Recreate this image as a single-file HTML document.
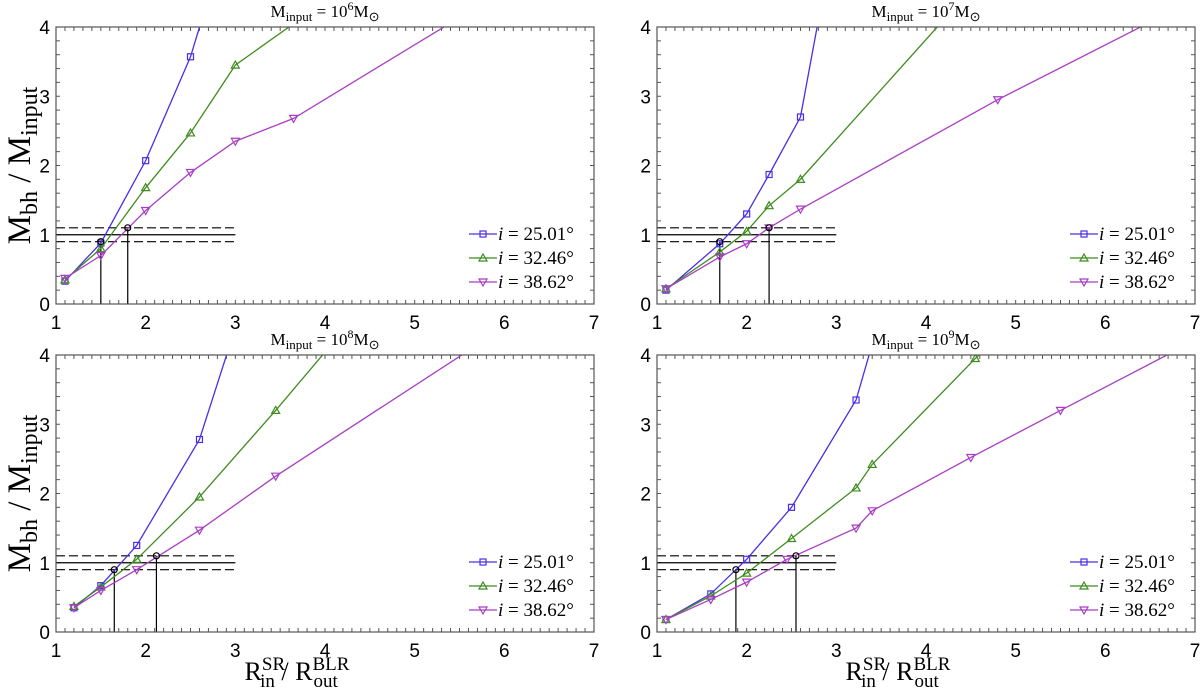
<!DOCTYPE html>
<html><head><meta charset="utf-8"><style>
html,body{margin:0;padding:0;background:#fff;}
svg{display:block;}
text{font-family:"Liberation Sans",sans-serif;}
.serif{font-family:"Liberation Serif",serif;}
</style></head><body>
<svg id="chart" width="1200" height="691" viewBox="0 0 1200 691" xmlns="http://www.w3.org/2000/svg"></svg>
<script>
const panelTitles = ["6","7","8","9"];
const seriesNames = ["i = 25.01°","i = 32.46°","i = 38.62°"];
const xTicks = [1,2,3,4,5,6,7];
const yTicks = [0,1,2,3,4];
// panel 1 (10^6)
const p1BlueX = [1.1,1.5,2,2.5,3];   const p1BlueY = [0.33,0.88,2.07,3.57,5.7];
const p1GreenX = [1.1,1.5,2,2.5,3,4]; const p1GreenY = [0.35,0.8,1.68,2.47,3.45,4.37];
const p1PurpX = [1.1,1.5,2,2.5,3,3.65,6]; const p1PurpY = [0.37,0.7,1.35,1.9,2.35,2.68,4.53];
const p1RefX = [1.5,1.8]; const p1RefY = [0.9,1.1];
// panel 2 (10^7)
const p2BlueX = [1.1,1.7,2,2.25,2.6,3]; const p2BlueY = [0.2,0.87,1.3,1.87,2.7,5.5];
const p2GreenX = [1.1,1.7,2,2.25,2.6,5]; const p2GreenY = [0.22,0.75,1.05,1.42,1.8,5.26];
const p2PurpX = [1.1,1.7,2,2.25,2.6,4.8,7]; const p2PurpY = [0.22,0.68,0.87,1.1,1.37,2.95,4.4];
const p2RefX = [1.7,2.25]; const p2RefY = [0.9,1.1];
// panel 3 (10^8)
const p3BlueX = [1.2,1.5,1.9,2.6,3.2]; const p3BlueY = [0.35,0.67,1.25,2.78,5.2];
const p3GreenX = [1.2,1.5,1.9,2.6,3.45,4.3]; const p3GreenY = [0.37,0.65,1.05,1.95,3.2,4.5];
const p3PurpX = [1.2,1.5,1.9,2.6,3.45,6]; const p3PurpY = [0.35,0.6,0.9,1.47,2.25,4.4];
const p3RefX = [1.65,2.12]; const p3RefY = [0.9,1.1];
// panel 4 (10^9)
const p4BlueX = [1.1,1.6,2,2.5,3.22,3.5]; const p4BlueY = [0.18,0.55,1.05,1.8,3.35,4.6];
const p4GreenX = [1.1,1.6,2,2.5,3.22,3.4,4.55,5]; const p4GreenY = [0.18,0.52,0.85,1.35,2.08,2.42,3.95,4.5];
const p4PurpX = [1.1,1.6,2,2.45,3.22,3.4,4.5,5.5,7]; const p4PurpY = [0.18,0.47,0.72,1.05,1.5,1.75,2.52,3.2,4.21];
const p4RefX = [1.88,2.55]; const p4RefY = [0.9,1.1];

const panels = [
 {x0:56,x1:594,y0:27,y1:304,s:[[p1BlueX,p1BlueY],[p1GreenX,p1GreenY],[p1PurpX,p1PurpY]],rx:p1RefX,ry:p1RefY,xl:false},
 {x0:657,x1:1195,y0:27,y1:304,s:[[p2BlueX,p2BlueY],[p2GreenX,p2GreenY],[p2PurpX,p2PurpY]],rx:p2RefX,ry:p2RefY,xl:false},
 {x0:56,x1:594,y0:355,y1:632,s:[[p3BlueX,p3BlueY],[p3GreenX,p3GreenY],[p3PurpX,p3PurpY]],rx:p3RefX,ry:p3RefY,xl:true},
 {x0:657,x1:1195,y0:355,y1:632,s:[[p4BlueX,p4BlueY],[p4GreenX,p4GreenY],[p4PurpX,p4PurpY]],rx:p4RefX,ry:p4RefY,xl:true}
];
const colors=["#4a2fe6","#3f8c1e","#a83ec4"];
const NS="http://www.w3.org/2000/svg";
const svg=document.getElementById('chart');
function mk(tag,attrs,parent){const e=document.createElementNS(NS,tag);for(const k in attrs)e.setAttribute(k,attrs[k]);(parent||svg).appendChild(e);return e;}
function marker(g,k,x,y,c){
  let e;
  if(k===0){e=mk('rect',{x:x-3,y:y-3,width:6,height:6,fill:'none',stroke:c,'stroke-width':1.2},g);}
  else if(k===1){e=mk('polygon',{points:`${x},${y-4} ${x-4},${y+3} ${x+4},${y+3}`,fill:'none',stroke:c,'stroke-width':1.2},g);}
  else {e=mk('polygon',{points:`${x},${y+4} ${x-4},${y-3} ${x+4},${y-3}`,fill:'none',stroke:c,'stroke-width':1.2},g);}
  
  
}
panels.forEach((p,pi)=>{
  const sx=v=>p.x0+(v-1)/6*(p.x1-p.x0);
  const sy=v=>p.y1-v/4*(p.y1-p.y0);
  const g=mk('g',{});
  
  
  const cid='clip'+pi;
  const cp=mk('clipPath',{id:cid},g);mk('rect',{x:p.x0,y:p.y0,width:p.x1-p.x0,height:p.y1-p.y0},cp);
  const t=mk('text',{x:(p.x0+p.x1)/2,y:p.y0-10,'text-anchor':'middle','font-size':17,class:'serif'},g);
  
  
  t.innerHTML=`M<tspan font-size="13" dy="4">input</tspan><tspan dy="-4"> = 10</tspan><tspan font-size="12" dy="-7">${panelTitles[pi]}</tspan><tspan dy="7">M</tspan><tspan font-size="13" dy="4">⊙</tspan>`;
  for(let v=1;v<=7.001;v+=0.1){const x=sx(v);mk('line',{x1:x,y1:p.y1,x2:x,y2:p.y1-4,stroke:'#555','stroke-width':1},g);mk('line',{x1:x,y1:p.y0,x2:x,y2:p.y0+4,stroke:'#555','stroke-width':1},g);}
  for(let v=0;v<=4.001;v+=0.2){const y=sy(v);mk('line',{x1:p.x0,y1:y,x2:p.x0+4,y2:y,stroke:'#555','stroke-width':1},g);mk('line',{x1:p.x1,y1:y,x2:p.x1-4,y2:y,stroke:'#555','stroke-width':1},g);}
  xTicks.forEach(v=>{const e=mk('text',{x:sx(v),y:p.y1+25,'text-anchor':'middle','font-size':19},g);e.textContent=v;
    
    });
  yTicks.forEach(v=>{const e=mk('text',{x:p.x0-6,y:sy(v)+7,'text-anchor':'end','font-size':19},g);e.textContent=v;
    
    });
  mk('line',{x1:sx(1),y1:sy(1),x2:sx(3),y2:sy(1),stroke:'#000','stroke-width':1.2},g);
  mk('line',{x1:sx(1),y1:sy(0.9),x2:sx(3),y2:sy(0.9),stroke:'#000','stroke-width':1.2,'stroke-dasharray':'9,4'},g);
  mk('line',{x1:sx(1),y1:sy(1.1),x2:sx(3),y2:sy(1.1),stroke:'#000','stroke-width':1.2,'stroke-dasharray':'9,4'},g);
  p.rx.forEach((v,i)=>{mk('line',{x1:sx(v),y1:sy(0),x2:sx(v),y2:sy(p.ry[i]),stroke:'#000','stroke-width':1.2},g);});
  p.s.forEach((s,k)=>{
    const sg=mk('g',{'clip-path':`url(#${cid})`},g);
    
    
    mk('polyline',{points:s[0].map((x,i)=>sx(x)+','+sy(s[1][i])).join(' '),fill:'none',stroke:colors[k],'stroke-width':1.3},sg);
    s[0].forEach((x,i)=>marker(sg,k,sx(x),sy(s[1][i]),colors[k]));
  });
  p.rx.forEach((v,i)=>{const c=mk('circle',{cx:sx(v),cy:sy(p.ry[i]),r:3,fill:'none',stroke:'#000','stroke-width':1.2},g);
    
    });
  mk('rect',{x:p.x0,y:p.y0,width:p.x1-p.x0,height:p.y1-p.y0,fill:'none',stroke:'#555','stroke-width':1.2},g);
  seriesNames.forEach((n,k)=>{
    const lg=mk('g',{},g);
    
    
    const y=p.y0+207+k*24;
    mk('line',{x1:p.x1-125,y1:y,x2:p.x1-97,y2:y,stroke:colors[k],'stroke-width':1.3},lg);
    marker(lg,k,p.x1-111,y,colors[k]);
    const e=mk('text',{x:p.x1-96,y:y+6,'font-size':19,class:'serif'},lg);
    e.innerHTML=`<tspan font-style="italic">i</tspan> = ${n.slice(4)}`;
  });
  if(pi%2===0){
    const e=mk('text',{transform:`translate(30,${(p.y0+p.y1)/2}) rotate(-90)`,'text-anchor':'middle','font-size':33,class:'serif'},g);
    
    
    e.innerHTML=`M<tspan font-size="24" dy="7">bh</tspan><tspan dy="-7"> / M</tspan><tspan font-size="24" dy="7">input</tspan>`;
  }
  if(p.xl){
    const e=mk('text',{x:(p.x0+p.x1)/2-28,y:p.y1+48,'text-anchor':'middle','font-size':26,class:'serif'},g);
    
    
    e.innerHTML=`R<tspan font-size="19" dy="-10">SR</tspan><tspan font-size="19" dx="-25" dy="17">in</tspan><tspan dy="-7"> / R</tspan><tspan font-size="19" dy="-10">BLR</tspan><tspan font-size="19" dx="-36" dy="17">out</tspan>`;
  }
});
</script>
</body></html>
